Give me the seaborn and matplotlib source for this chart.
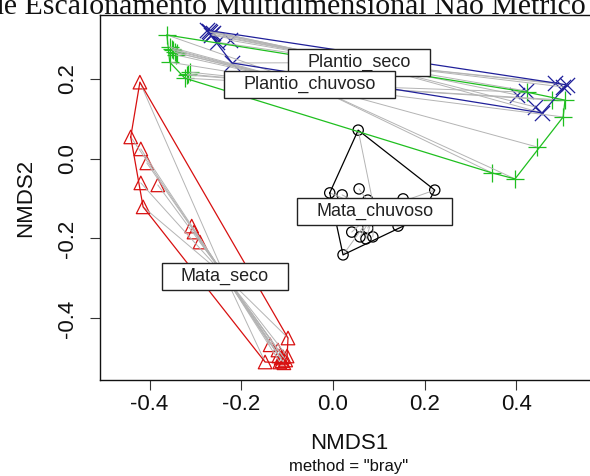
import numpy as np
import pandas as pd
import matplotlib
matplotlib.use("Agg")
import matplotlib.pyplot as plt
import seaborn as sns
from matplotlib.patches import Rectangle

# ---------------- data (NMDS scores) ----------------
groups = ["Mata_seco", "Mata_chuvoso", "Plantio_seco", "Plantio_chuvoso"]

mata_seco_x = [-0.421, -0.441, -0.419, -0.406, -0.419, -0.382, -0.414, -0.308, -0.303, -0.290,
               -0.137, -0.098, -0.148, -0.120, -0.116, -0.109, -0.103, -0.113, -0.107, -0.118,
               -0.100, -0.111]
mata_seco_y = [0.191, 0.054, 0.024, -0.011, -0.061, -0.066, -0.121, -0.169, -0.184, -0.209,
               -0.466, -0.449, -0.509, -0.479, -0.509, -0.496, -0.504, -0.499, -0.511, -0.494,
               -0.494, -0.506]

mata_chuvoso_x = [0.055, 0.222, -0.007, 0.020, 0.057, 0.076, 0.153, 0.142, 0.041, 0.076,
                  0.059, 0.087, 0.072, 0.022, 0.113, 0.168, 0.190]
mata_chuvoso_y = [0.071, -0.079, -0.086, -0.091, -0.076, -0.104, -0.101, -0.169, -0.184, -0.174,
                  -0.196, -0.196, -0.201, -0.241, -0.139, -0.124, -0.149]

plantio_seco_x = [-0.275, -0.270, -0.268, -0.264, -0.262, -0.266, -0.253, -0.225, -0.220,
                  0.484, 0.502, 0.510, 0.401, 0.421, 0.441, 0.456]
plantio_seco_y = [0.321, 0.319, 0.316, 0.311, 0.314, 0.309, 0.291, 0.296, 0.239,
                  0.189, 0.179, 0.184, 0.159, 0.169, 0.129, 0.114]

plantio_chuvoso_x = [-0.362, -0.356, -0.351, -0.349, -0.345, -0.342, -0.340, -0.356, -0.312,
                     -0.316, -0.318, -0.323,
                     0.423, 0.478, 0.506, 0.502, 0.445, 0.347, 0.397]
plantio_chuvoso_y = [0.309, 0.279, 0.274, 0.271, 0.266, 0.259, 0.264, 0.241, 0.216,
                     0.211, 0.209, 0.201,
                     0.166, 0.146, 0.146, 0.104, 0.029, -0.036, -0.051]

x_ticks = [-0.4, -0.2, 0.0, 0.2, 0.4]
y_ticks = [-0.4, -0.2, 0.0, 0.2]

title_text = "de Escalonamento Multidimensional Não Métrico"
x_label = "NMDS1"
y_label = "NMDS2"
sub_text = 'method = "bray"'

# ---------------- build table ----------------
frames = []
for g, xs, ys in [("Mata_seco", mata_seco_x, mata_seco_y),
                  ("Mata_chuvoso", mata_chuvoso_x, mata_chuvoso_y),
                  ("Plantio_seco", plantio_seco_x, plantio_seco_y),
                  ("Plantio_chuvoso", plantio_chuvoso_x, plantio_chuvoso_y)]:
    frames.append(pd.DataFrame({"NMDS1": xs, "NMDS2": ys, "grupo": g}))
df = pd.concat(frames, ignore_index=True)

colors = {"Mata_seco": "#D81010", "Mata_chuvoso": "#000000",
          "Plantio_seco": "#20209A", "Plantio_chuvoso": "#1FBF1F"}
markers = {"Mata_seco": "^", "Mata_chuvoso": "o", "Plantio_seco": "x", "Plantio_chuvoso": "+"}
msize = {"Mata_seco": 95, "Mata_chuvoso": 55, "Plantio_seco": 120, "Plantio_chuvoso": 150}

sns.set_theme(style="white")
plt.rcParams['font.family'] = ['Liberation Sans', 'DejaVu Sans']

W, H = 590, 476
fig = plt.figure(figsize=(W / 100, H / 100), dpi=100)
L, R, T, B = 100, 598, 15, 380
ax = fig.add_axes([L / W, 1 - B / H, (R - L) / W, (B - T) / H])
ax.set_facecolor("white")

# points
for g in groups:
    sub = df[df["grupo"] == g]
    if markers[g] in ("^", "o"):
        sns.scatterplot(data=sub, x="NMDS1", y="NMDS2", marker=markers[g], s=msize[g],
                        facecolor="none", edgecolor=colors[g], linewidth=0.9, ax=ax,
                        legend=False, zorder=3)
    else:
        sns.scatterplot(data=sub, x="NMDS1", y="NMDS2", marker=markers[g], s=msize[g],
                        color=colors[g], linewidth=0.9, ax=ax, legend=False, zorder=3)


def convex_hull(pts):
    pts = sorted(set(map(tuple, pts)))
    if len(pts) <= 2:
        return pts

    def cross(o, a, b):
        return (a[0] - o[0]) * (b[1] - o[1]) - (a[1] - o[1]) * (b[0] - o[0])
    lower, upper = [], []
    for p in pts:
        while len(lower) >= 2 and cross(lower[-2], lower[-1], p) <= 0:
            lower.pop()
        lower.append(p)
    for p in reversed(pts):
        while len(upper) >= 2 and cross(upper[-2], upper[-1], p) <= 0:
            upper.pop()
        upper.append(p)
    return lower[:-1] + upper[:-1]


centroids = {}
for g in groups:
    sub = df[df["grupo"] == g]
    cx, cy = sub["NMDS1"].mean(), sub["NMDS2"].mean()
    centroids[g] = (cx, cy)
    # spider
    for x, y in zip(sub["NMDS1"], sub["NMDS2"]):
        ax.plot([cx, x], [cy, y], color="#B4B4B4", lw=0.7, zorder=4)
    # hull
    hull = convex_hull(sub[["NMDS1", "NMDS2"]].values)
    hull = np.array(hull + [hull[0]])
    ax.plot(hull[:, 0], hull[:, 1], color=colors[g], lw=0.9, zorder=5)

ax.set_xlim(-0.508, 0.578)
ax.set_ylim(-0.554, 0.359)

ax.set_xticks(x_ticks)
ax.set_xticklabels([f"{v:.1f}" for v in x_ticks])
ax.set_yticks(y_ticks)
ax.set_yticklabels([f"{v:.1f}" for v in y_ticks], rotation=90, va="center")
ax.tick_params(axis="both", which="major", length=7, width=0.8, color="#333333",
               labelsize=16, labelcolor="#111111", direction="out",
               bottom=True, left=True, top=False, right=False)
ax.tick_params(axis="x", pad=3)
ax.tick_params(axis="y", pad=9)
for s in ax.spines.values():
    s.set_color("#111111")
    s.set_linewidth(1.0)
ax.grid(False)

ax.set_xlabel(x_label, fontsize=16, color="#111111")
ax.set_ylabel(y_label, fontsize=16, color="#111111")
ax.xaxis.set_label_coords(0.5, (B - 443) / (B - T))
ax.xaxis.label.set_va("center")
ax.yaxis.set_label_coords((26 - L) / (R - L), 0.5)
ax.yaxis.label.set_va("center")

fig.text(349 / W, 1 - 467 / H, sub_text, fontsize=12, ha="center", va="center", color="#111111")
fig.text(-11 / W, 1 - 14 / H, title_text, fontsize=21.5, ha="left", va="baseline",
         family=["Liberation Serif", "DejaVu Serif"], color="#111111")

# labels with boxes at the centroids
fig.canvas.draw()
renderer = fig.canvas.get_renderer()
inv = ax.transData.inverted()
for g in groups:
    cx, cy = centroids[g]
    t = ax.text(cx, cy, g, fontsize=13, ha="center", va="center", color="#222222", zorder=12)
    bb = t.get_window_extent(renderer=renderer)
    px, py = ax.transData.transform((cx, cy))
    w = bb.width + 2 * 19
    h = 27
    (x0, y0) = inv.transform((px - w / 2, py - h / 2))
    (x1, y1) = inv.transform((px + w / 2, py + h / 2))
    ax.add_patch(Rectangle((x0, y0), x1 - x0, y1 - y0, facecolor="white",
                           edgecolor="#222222", lw=1.0, zorder=11))

fig.savefig("out.png", dpi=100)
